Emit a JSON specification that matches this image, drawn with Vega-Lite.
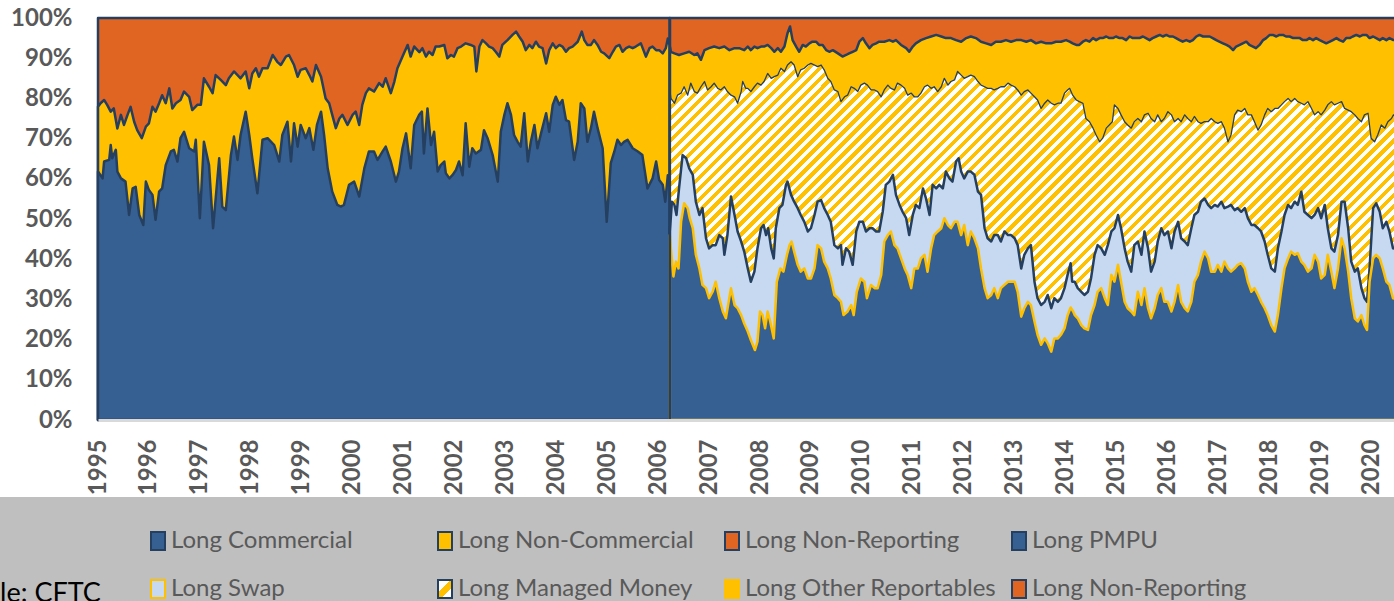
{
"$schema":"https://vega.github.io/schema/vega-lite/v6.json",
"width":1296,"height":402,
"autosize":{"type":"none"},
"padding":{"left":98,"top":18,"right":0,"bottom":181},
"background":"white",
"config":{"view":{"stroke":null},"font":"Lato"},
"datasets":{
"keys":[{"k":"a1"},{"k":"a2"},{"k":"a3"},{"k":"a4"},{"k":"a5"},{"k":"a6"},{"k":"a7"},{"k":"a8"}],
"brk":[{"t":2006.23}],
"nrl":[{"t":1995,"v":100},{"t":2006.23,"v":100}],
"nrd":[{"t":2006.23,"v":100},{"t":2020.5,"v":100}],
"comm":[{"t":1995.00,"v":61.8},{"t":1995.09,"v":60.1},{"t":1995.12,"v":64.3},{"t":1995.22,"v":64.7},{"t":1995.25,"v":68.4},{"t":1995.28,"v":65.1},{"t":1995.35,"v":67.2},{"t":1995.38,"v":61.8},{"t":1995.45,"v":60.1},{"t":1995.54,"v":59.3},{"t":1995.61,"v":51.0},{"t":1995.68,"v":57.6},{"t":1995.74,"v":58.0},{"t":1995.81,"v":51.0},{"t":1995.89,"v":48.5},{"t":1995.94,"v":59.3},{"t":1996.00,"v":57.2},{"t":1996.07,"v":56.0},{"t":1996.13,"v":49.8},{"t":1996.20,"v":56.8},{"t":1996.26,"v":57.6},{"t":1996.33,"v":63.4},{"t":1996.43,"v":66.8},{"t":1996.49,"v":67.2},{"t":1996.56,"v":64.3},{"t":1996.62,"v":70.1},{"t":1996.69,"v":71.7},{"t":1996.79,"v":67.6},{"t":1996.89,"v":66.8},{"t":1996.92,"v":69.7},{"t":1997.00,"v":50.2},{"t":1997.08,"v":69.2},{"t":1997.18,"v":63.4},{"t":1997.26,"v":47.7},{"t":1997.38,"v":65.1},{"t":1997.44,"v":53.1},{"t":1997.51,"v":52.2},{"t":1997.61,"v":65.9},{"t":1997.67,"v":70.5},{"t":1997.74,"v":64.7},{"t":1997.80,"v":70.9},{"t":1997.90,"v":76.7},{"t":1997.97,"v":70.9},{"t":1998.03,"v":65.1},{"t":1998.13,"v":56.4},{"t":1998.23,"v":69.7},{"t":1998.33,"v":70.1},{"t":1998.46,"v":68.4},{"t":1998.56,"v":64.3},{"t":1998.62,"v":70.9},{"t":1998.72,"v":74.2},{"t":1998.79,"v":64.3},{"t":1998.85,"v":73.8},{"t":1998.92,"v":68.0},{"t":1998.98,"v":73.4},{"t":1999.08,"v":70.1},{"t":1999.15,"v":72.6},{"t":1999.23,"v":67.2},{"t":1999.30,"v":73.4},{"t":1999.38,"v":76.7},{"t":1999.44,"v":70.9},{"t":1999.51,"v":62.6},{"t":1999.60,"v":56.8},{"t":1999.70,"v":53.5},{"t":1999.77,"v":53.1},{"t":1999.83,"v":53.5},{"t":1999.93,"v":58.5},{"t":2000.03,"v":59.3},{"t":2000.13,"v":55.6},{"t":2000.23,"v":62.6},{"t":2000.32,"v":66.8},{"t":2000.42,"v":66.8},{"t":2000.49,"v":64.7},{"t":2000.59,"v":66.8},{"t":2000.65,"v":68.0},{"t":2000.75,"v":64.3},{"t":2000.85,"v":59.3},{"t":2000.91,"v":61.8},{"t":2000.98,"v":67.6},{"t":2001.05,"v":71.3},{"t":2001.14,"v":62.6},{"t":2001.21,"v":73.4},{"t":2001.31,"v":76.0},{"t":2001.36,"v":76.7},{"t":2001.40,"v":66.3},{"t":2001.47,"v":77.5},{"t":2001.54,"v":68.4},{"t":2001.60,"v":71.7},{"t":2001.67,"v":61.8},{"t":2001.73,"v":63.4},{"t":2001.80,"v":64.3},{"t":2001.83,"v":61.4},{"t":2001.90,"v":60.1},{"t":2001.96,"v":60.9},{"t":2002.03,"v":62.2},{"t":2002.09,"v":64.3},{"t":2002.16,"v":60.9},{"t":2002.22,"v":73.8},{"t":2002.29,"v":63.0},{"t":2002.35,"v":67.6},{"t":2002.42,"v":66.3},{"t":2002.52,"v":67.2},{"t":2002.58,"v":72.1},{"t":2002.65,"v":70.1},{"t":2002.75,"v":65.9},{"t":2002.85,"v":59.3},{"t":2002.91,"v":71.7},{"t":2002.98,"v":75.9},{"t":2003.04,"v":78.8},{"t":2003.11,"v":75.9},{"t":2003.17,"v":70.9},{"t":2003.24,"v":69.2},{"t":2003.30,"v":68.0},{"t":2003.37,"v":76.3},{"t":2003.44,"v":64.3},{"t":2003.50,"v":69.2},{"t":2003.57,"v":73.4},{"t":2003.63,"v":67.6},{"t":2003.70,"v":71.3},{"t":2003.80,"v":76.3},{"t":2003.86,"v":71.7},{"t":2003.93,"v":78.4},{"t":2003.99,"v":80.4},{"t":2004.06,"v":78.4},{"t":2004.12,"v":79.6},{"t":2004.19,"v":74.6},{"t":2004.25,"v":74.2},{"t":2004.35,"v":64.7},{"t":2004.42,"v":69.2},{"t":2004.48,"v":78.8},{"t":2004.55,"v":77.5},{"t":2004.61,"v":69.2},{"t":2004.68,"v":72.6},{"t":2004.74,"v":76.7},{"t":2004.81,"v":72.6},{"t":2004.91,"v":67.6},{"t":2004.99,"v":49.3},{"t":2005.07,"v":63.9},{"t":2005.14,"v":66.8},{"t":2005.20,"v":69.7},{"t":2005.27,"v":68.4},{"t":2005.33,"v":69.2},{"t":2005.40,"v":69.7},{"t":2005.50,"v":67.6},{"t":2005.60,"v":66.8},{"t":2005.69,"v":65.9},{"t":2005.79,"v":57.6},{"t":2005.89,"v":60.1},{"t":2005.96,"v":64.3},{"t":2006.02,"v":59.7},{"t":2006.09,"v":58.5},{"t":2006.14,"v":54.3},{"t":2006.19,"v":60.9},{"t":2006.23,"v":58.0}],
"noncomm":[{"t":1995.00,"v":77.9},{"t":1995.05,"v":78.8},{"t":1995.12,"v":79.6},{"t":1995.18,"v":78.4},{"t":1995.25,"v":76.7},{"t":1995.31,"v":77.5},{"t":1995.38,"v":72.5},{"t":1995.45,"v":75.9},{"t":1995.51,"v":73.4},{"t":1995.58,"v":75.9},{"t":1995.64,"v":77.9},{"t":1995.71,"v":74.2},{"t":1995.77,"v":72.1},{"t":1995.86,"v":70.1},{"t":1995.94,"v":73.0},{"t":1996.00,"v":73.8},{"t":1996.07,"v":77.9},{"t":1996.13,"v":76.7},{"t":1996.20,"v":78.8},{"t":1996.26,"v":80.8},{"t":1996.33,"v":78.8},{"t":1996.40,"v":82.5},{"t":1996.46,"v":77.5},{"t":1996.53,"v":78.8},{"t":1996.62,"v":79.6},{"t":1996.69,"v":81.7},{"t":1996.79,"v":80.4},{"t":1996.85,"v":77.1},{"t":1996.95,"v":78.4},{"t":1997.02,"v":78.4},{"t":1997.08,"v":85.0},{"t":1997.18,"v":82.9},{"t":1997.25,"v":81.3},{"t":1997.31,"v":85.8},{"t":1997.41,"v":84.6},{"t":1997.51,"v":83.3},{"t":1997.57,"v":85.0},{"t":1997.67,"v":86.7},{"t":1997.74,"v":85.8},{"t":1997.80,"v":85.0},{"t":1997.90,"v":86.7},{"t":1997.97,"v":82.5},{"t":1998.03,"v":86.2},{"t":1998.10,"v":87.5},{"t":1998.16,"v":85.4},{"t":1998.23,"v":87.5},{"t":1998.33,"v":87.5},{"t":1998.43,"v":90.8},{"t":1998.52,"v":89.1},{"t":1998.59,"v":88.3},{"t":1998.69,"v":90.4},{"t":1998.75,"v":90.8},{"t":1998.85,"v":88.3},{"t":1998.92,"v":85.4},{"t":1998.98,"v":87.1},{"t":1999.08,"v":87.5},{"t":1999.15,"v":85.8},{"t":1999.21,"v":84.2},{"t":1999.28,"v":88.3},{"t":1999.38,"v":85.4},{"t":1999.47,"v":80.0},{"t":1999.54,"v":78.8},{"t":1999.60,"v":75.9},{"t":1999.67,"v":72.6},{"t":1999.74,"v":75.0},{"t":1999.80,"v":75.9},{"t":1999.90,"v":73.4},{"t":2000.00,"v":75.9},{"t":2000.06,"v":76.7},{"t":2000.13,"v":73.4},{"t":2000.19,"v":78.4},{"t":2000.26,"v":81.3},{"t":2000.32,"v":82.5},{"t":2000.42,"v":81.7},{"t":2000.52,"v":83.8},{"t":2000.59,"v":82.9},{"t":2000.65,"v":85.0},{"t":2000.75,"v":81.3},{"t":2000.82,"v":84.2},{"t":2000.88,"v":87.5},{"t":2000.98,"v":90.4},{"t":2001.08,"v":93.3},{"t":2001.14,"v":90.4},{"t":2001.21,"v":92.9},{"t":2001.31,"v":91.5},{"t":2001.37,"v":92.5},{"t":2001.44,"v":90.4},{"t":2001.50,"v":91.6},{"t":2001.57,"v":90.8},{"t":2001.63,"v":92.9},{"t":2001.70,"v":92.9},{"t":2001.80,"v":93.3},{"t":2001.86,"v":90.0},{"t":2001.93,"v":90.8},{"t":2001.99,"v":90.4},{"t":2002.06,"v":92.5},{"t":2002.13,"v":92.9},{"t":2002.22,"v":93.7},{"t":2002.32,"v":93.3},{"t":2002.39,"v":92.9},{"t":2002.43,"v":86.7},{"t":2002.49,"v":92.9},{"t":2002.55,"v":94.5},{"t":2002.62,"v":93.7},{"t":2002.68,"v":92.9},{"t":2002.75,"v":92.5},{"t":2002.81,"v":91.6},{"t":2002.88,"v":90.4},{"t":2002.94,"v":93.3},{"t":2003.04,"v":94.5},{"t":2003.14,"v":95.8},{"t":2003.21,"v":96.6},{"t":2003.27,"v":95.4},{"t":2003.34,"v":94.1},{"t":2003.40,"v":92.0},{"t":2003.47,"v":93.3},{"t":2003.53,"v":92.5},{"t":2003.60,"v":94.1},{"t":2003.66,"v":92.9},{"t":2003.73,"v":92.5},{"t":2003.80,"v":88.7},{"t":2003.86,"v":92.0},{"t":2003.93,"v":93.7},{"t":2003.99,"v":92.5},{"t":2004.06,"v":93.3},{"t":2004.12,"v":92.9},{"t":2004.19,"v":91.6},{"t":2004.25,"v":92.5},{"t":2004.32,"v":92.9},{"t":2004.42,"v":94.1},{"t":2004.50,"v":96.6},{"t":2004.55,"v":94.5},{"t":2004.61,"v":93.3},{"t":2004.68,"v":93.3},{"t":2004.74,"v":94.5},{"t":2004.81,"v":93.3},{"t":2004.88,"v":91.6},{"t":2004.94,"v":91.2},{"t":2005.04,"v":90.0},{"t":2005.11,"v":91.6},{"t":2005.17,"v":92.9},{"t":2005.24,"v":93.3},{"t":2005.30,"v":91.6},{"t":2005.37,"v":92.5},{"t":2005.43,"v":92.9},{"t":2005.50,"v":92.5},{"t":2005.56,"v":92.9},{"t":2005.66,"v":93.7},{"t":2005.76,"v":90.4},{"t":2005.83,"v":92.5},{"t":2005.89,"v":92.9},{"t":2005.96,"v":92.0},{"t":2006.02,"v":92.0},{"t":2006.09,"v":91.2},{"t":2006.15,"v":92.5},{"t":2006.19,"v":94.9},{"t":2006.23,"v":93.0}],
"pmpu":[{"t":2006.23,"v":46.0},{"t":2006.25,"v":42.7},{"t":2006.30,"v":35.7},{"t":2006.35,"v":39.4},{"t":2006.40,"v":37.7},{"t":2006.45,"v":49.3},{"t":2006.51,"v":53.9},{"t":2006.58,"v":52.7},{"t":2006.62,"v":50.2},{"t":2006.68,"v":47.7},{"t":2006.74,"v":41.1},{"t":2006.81,"v":37.7},{"t":2006.87,"v":33.6},{"t":2006.94,"v":32.8},{"t":2007.00,"v":30.3},{"t":2007.07,"v":31.9},{"t":2007.13,"v":34.4},{"t":2007.20,"v":30.3},{"t":2007.27,"v":27.0},{"t":2007.33,"v":25.3},{"t":2007.43,"v":32.8},{"t":2007.50,"v":28.6},{"t":2007.56,"v":27.8},{"t":2007.63,"v":26.1},{"t":2007.69,"v":24.0},{"t":2007.76,"v":22.0},{"t":2007.82,"v":19.9},{"t":2007.90,"v":17.4},{"t":2007.95,"v":19.5},{"t":2008.00,"v":27.0},{"t":2008.05,"v":26.1},{"t":2008.10,"v":22.8},{"t":2008.15,"v":27.0},{"t":2008.20,"v":24.5},{"t":2008.27,"v":20.3},{"t":2008.33,"v":34.4},{"t":2008.40,"v":37.7},{"t":2008.46,"v":36.9},{"t":2008.53,"v":41.1},{"t":2008.58,"v":43.5},{"t":2008.62,"v":44.4},{"t":2008.67,"v":41.9},{"t":2008.74,"v":38.6},{"t":2008.80,"v":36.9},{"t":2008.87,"v":37.7},{"t":2008.94,"v":35.2},{"t":2009.00,"v":35.2},{"t":2009.07,"v":37.7},{"t":2009.13,"v":43.5},{"t":2009.20,"v":42.7},{"t":2009.26,"v":39.4},{"t":2009.33,"v":37.7},{"t":2009.39,"v":35.2},{"t":2009.46,"v":31.1},{"t":2009.53,"v":30.3},{"t":2009.59,"v":29.4},{"t":2009.64,"v":26.1},{"t":2009.72,"v":27.0},{"t":2009.79,"v":28.6},{"t":2009.84,"v":26.1},{"t":2009.90,"v":31.9},{"t":2009.98,"v":35.2},{"t":2010.05,"v":34.4},{"t":2010.10,"v":30.3},{"t":2010.18,"v":33.6},{"t":2010.25,"v":32.8},{"t":2010.31,"v":32.8},{"t":2010.38,"v":36.1},{"t":2010.44,"v":44.4},{"t":2010.51,"v":46.0},{"t":2010.57,"v":46.9},{"t":2010.64,"v":43.5},{"t":2010.70,"v":42.7},{"t":2010.77,"v":40.2},{"t":2010.84,"v":37.7},{"t":2010.90,"v":36.1},{"t":2010.97,"v":32.8},{"t":2011.03,"v":37.7},{"t":2011.10,"v":37.7},{"t":2011.16,"v":40.2},{"t":2011.23,"v":41.1},{"t":2011.29,"v":36.9},{"t":2011.36,"v":42.7},{"t":2011.42,"v":46.0},{"t":2011.49,"v":46.9},{"t":2011.56,"v":47.7},{"t":2011.62,"v":50.2},{"t":2011.69,"v":48.5},{"t":2011.75,"v":47.7},{"t":2011.82,"v":49.3},{"t":2011.88,"v":49.3},{"t":2011.95,"v":46.0},{"t":2012.01,"v":48.5},{"t":2012.08,"v":43.5},{"t":2012.14,"v":46.9},{"t":2012.21,"v":45.2},{"t":2012.28,"v":42.7},{"t":2012.34,"v":37.7},{"t":2012.41,"v":32.8},{"t":2012.47,"v":30.3},{"t":2012.54,"v":31.1},{"t":2012.60,"v":32.8},{"t":2012.67,"v":30.3},{"t":2012.73,"v":32.8},{"t":2012.80,"v":33.6},{"t":2012.87,"v":34.4},{"t":2012.93,"v":34.4},{"t":2013.00,"v":34.4},{"t":2013.06,"v":31.9},{"t":2013.13,"v":25.7},{"t":2013.19,"v":27.8},{"t":2013.26,"v":29.4},{"t":2013.32,"v":28.6},{"t":2013.39,"v":24.5},{"t":2013.45,"v":21.2},{"t":2013.52,"v":18.7},{"t":2013.59,"v":20.3},{"t":2013.65,"v":19.1},{"t":2013.72,"v":17.0},{"t":2013.78,"v":20.3},{"t":2013.85,"v":20.3},{"t":2013.91,"v":21.2},{"t":2013.98,"v":22.8},{"t":2014.04,"v":26.0},{"t":2014.10,"v":28.0},{"t":2014.15,"v":27.0},{"t":2014.18,"v":26.1},{"t":2014.24,"v":25.3},{"t":2014.31,"v":23.6},{"t":2014.37,"v":22.8},{"t":2014.44,"v":22.4},{"t":2014.50,"v":26.1},{"t":2014.57,"v":28.6},{"t":2014.63,"v":31.9},{"t":2014.70,"v":32.8},{"t":2014.77,"v":30.3},{"t":2014.83,"v":28.6},{"t":2014.90,"v":36.1},{"t":2014.96,"v":34.4},{"t":2015.03,"v":38.6},{"t":2015.09,"v":34.4},{"t":2015.16,"v":29.4},{"t":2015.22,"v":27.8},{"t":2015.29,"v":27.0},{"t":2015.35,"v":26.1},{"t":2015.42,"v":31.9},{"t":2015.49,"v":28.6},{"t":2015.55,"v":32.8},{"t":2015.62,"v":27.8},{"t":2015.68,"v":25.3},{"t":2015.75,"v":27.8},{"t":2015.81,"v":31.1},{"t":2015.88,"v":32.8},{"t":2015.94,"v":29.4},{"t":2016.01,"v":29.4},{"t":2016.08,"v":27.0},{"t":2016.14,"v":29.4},{"t":2016.21,"v":33.6},{"t":2016.27,"v":29.4},{"t":2016.34,"v":27.8},{"t":2016.40,"v":27.0},{"t":2016.47,"v":29.4},{"t":2016.53,"v":34.4},{"t":2016.60,"v":36.1},{"t":2016.66,"v":39.4},{"t":2016.73,"v":41.9},{"t":2016.80,"v":40.2},{"t":2016.86,"v":36.9},{"t":2016.93,"v":36.9},{"t":2016.99,"v":38.6},{"t":2017.06,"v":36.9},{"t":2017.12,"v":39.4},{"t":2017.19,"v":37.7},{"t":2017.25,"v":36.9},{"t":2017.32,"v":37.7},{"t":2017.38,"v":38.6},{"t":2017.45,"v":39.0},{"t":2017.52,"v":37.7},{"t":2017.58,"v":34.4},{"t":2017.65,"v":31.9},{"t":2017.71,"v":32.8},{"t":2017.78,"v":31.1},{"t":2017.84,"v":29.4},{"t":2017.91,"v":27.8},{"t":2017.97,"v":26.1},{"t":2018.04,"v":23.6},{"t":2018.11,"v":22.0},{"t":2018.17,"v":26.1},{"t":2018.24,"v":32.8},{"t":2018.30,"v":37.7},{"t":2018.37,"v":40.2},{"t":2018.43,"v":41.9},{"t":2018.50,"v":41.1},{"t":2018.56,"v":41.5},{"t":2018.63,"v":39.4},{"t":2018.69,"v":38.6},{"t":2018.76,"v":36.9},{"t":2018.83,"v":37.7},{"t":2018.89,"v":41.1},{"t":2018.96,"v":39.4},{"t":2019.02,"v":35.2},{"t":2019.09,"v":36.1},{"t":2019.15,"v":41.1},{"t":2019.22,"v":36.9},{"t":2019.28,"v":32.8},{"t":2019.35,"v":37.7},{"t":2019.42,"v":45.2},{"t":2019.48,"v":42.7},{"t":2019.55,"v":36.9},{"t":2019.61,"v":30.3},{"t":2019.68,"v":25.3},{"t":2019.74,"v":24.5},{"t":2019.81,"v":26.1},{"t":2019.87,"v":23.6},{"t":2019.92,"v":22.4},{"t":2019.97,"v":34.4},{"t":2020.04,"v":40.2},{"t":2020.10,"v":41.1},{"t":2020.17,"v":40.2},{"t":2020.23,"v":37.7},{"t":2020.30,"v":34.4},{"t":2020.36,"v":33.6},{"t":2020.43,"v":30.3},{"t":2020.50,"v":30.0}],
"swap":[{"t":2006.23,"v":46.9},{"t":2006.27,"v":54.3},{"t":2006.32,"v":53.5},{"t":2006.36,"v":51.0},{"t":2006.41,"v":57.6},{"t":2006.48,"v":65.9},{"t":2006.55,"v":65.1},{"t":2006.61,"v":62.6},{"t":2006.68,"v":61.0},{"t":2006.74,"v":54.3},{"t":2006.81,"v":51.0},{"t":2006.87,"v":52.7},{"t":2006.94,"v":45.2},{"t":2007.00,"v":42.7},{"t":2007.07,"v":43.5},{"t":2007.13,"v":43.5},{"t":2007.20,"v":46.0},{"t":2007.27,"v":45.2},{"t":2007.30,"v":41.1},{"t":2007.36,"v":46.0},{"t":2007.43,"v":55.6},{"t":2007.50,"v":51.0},{"t":2007.56,"v":46.9},{"t":2007.63,"v":44.4},{"t":2007.69,"v":41.9},{"t":2007.76,"v":37.7},{"t":2007.82,"v":34.4},{"t":2007.89,"v":36.9},{"t":2007.95,"v":42.7},{"t":2008.02,"v":47.7},{"t":2008.07,"v":48.5},{"t":2008.12,"v":46.0},{"t":2008.16,"v":47.7},{"t":2008.22,"v":42.7},{"t":2008.27,"v":40.2},{"t":2008.31,"v":47.7},{"t":2008.38,"v":52.7},{"t":2008.44,"v":53.5},{"t":2008.51,"v":58.5},{"t":2008.54,"v":59.3},{"t":2008.61,"v":56.0},{"t":2008.67,"v":54.3},{"t":2008.74,"v":52.7},{"t":2008.80,"v":51.0},{"t":2008.87,"v":49.3},{"t":2008.94,"v":46.9},{"t":2009.00,"v":47.7},{"t":2009.07,"v":51.0},{"t":2009.13,"v":54.3},{"t":2009.20,"v":54.7},{"t":2009.26,"v":52.7},{"t":2009.33,"v":51.0},{"t":2009.39,"v":49.3},{"t":2009.46,"v":43.5},{"t":2009.53,"v":42.7},{"t":2009.59,"v":43.5},{"t":2009.62,"v":38.6},{"t":2009.69,"v":42.7},{"t":2009.75,"v":41.9},{"t":2009.82,"v":38.6},{"t":2009.89,"v":46.9},{"t":2009.95,"v":49.3},{"t":2010.02,"v":49.3},{"t":2010.08,"v":46.9},{"t":2010.15,"v":47.7},{"t":2010.21,"v":47.7},{"t":2010.28,"v":46.9},{"t":2010.34,"v":46.9},{"t":2010.41,"v":51.8},{"t":2010.47,"v":58.5},{"t":2010.54,"v":59.3},{"t":2010.61,"v":61.0},{"t":2010.67,"v":56.0},{"t":2010.74,"v":53.5},{"t":2010.80,"v":51.8},{"t":2010.87,"v":50.2},{"t":2010.93,"v":46.0},{"t":2011.00,"v":51.0},{"t":2011.06,"v":53.5},{"t":2011.13,"v":52.7},{"t":2011.20,"v":57.6},{"t":2011.26,"v":55.1},{"t":2011.33,"v":51.0},{"t":2011.39,"v":58.5},{"t":2011.46,"v":57.6},{"t":2011.52,"v":58.5},{"t":2011.59,"v":57.6},{"t":2011.65,"v":61.8},{"t":2011.72,"v":60.1},{"t":2011.78,"v":59.3},{"t":2011.85,"v":64.3},{"t":2011.90,"v":65.1},{"t":2011.95,"v":61.8},{"t":2012.01,"v":60.1},{"t":2012.08,"v":61.8},{"t":2012.14,"v":61.8},{"t":2012.21,"v":61.0},{"t":2012.28,"v":56.8},{"t":2012.34,"v":56.0},{"t":2012.41,"v":47.7},{"t":2012.47,"v":45.2},{"t":2012.54,"v":44.4},{"t":2012.60,"v":46.0},{"t":2012.67,"v":46.0},{"t":2012.73,"v":44.4},{"t":2012.80,"v":46.9},{"t":2012.87,"v":46.0},{"t":2012.93,"v":46.0},{"t":2013.00,"v":45.2},{"t":2013.06,"v":43.5},{"t":2013.13,"v":37.7},{"t":2013.19,"v":41.1},{"t":2013.26,"v":42.7},{"t":2013.32,"v":43.5},{"t":2013.39,"v":34.4},{"t":2013.45,"v":30.3},{"t":2013.52,"v":28.6},{"t":2013.59,"v":29.4},{"t":2013.65,"v":31.1},{"t":2013.72,"v":27.8},{"t":2013.78,"v":30.3},{"t":2013.85,"v":29.4},{"t":2013.91,"v":30.3},{"t":2013.98,"v":32.8},{"t":2014.04,"v":36.1},{"t":2014.10,"v":39.0},{"t":2014.13,"v":34.4},{"t":2014.18,"v":34.4},{"t":2014.24,"v":32.8},{"t":2014.31,"v":31.9},{"t":2014.37,"v":31.1},{"t":2014.44,"v":31.9},{"t":2014.50,"v":35.2},{"t":2014.57,"v":41.1},{"t":2014.63,"v":43.5},{"t":2014.70,"v":42.7},{"t":2014.77,"v":41.1},{"t":2014.83,"v":43.5},{"t":2014.90,"v":46.9},{"t":2014.96,"v":47.7},{"t":2015.03,"v":51.0},{"t":2015.09,"v":47.7},{"t":2015.16,"v":42.7},{"t":2015.22,"v":39.4},{"t":2015.29,"v":36.9},{"t":2015.35,"v":43.5},{"t":2015.42,"v":44.4},{"t":2015.49,"v":41.1},{"t":2015.55,"v":46.9},{"t":2015.62,"v":42.7},{"t":2015.68,"v":36.9},{"t":2015.75,"v":39.4},{"t":2015.81,"v":44.4},{"t":2015.88,"v":47.7},{"t":2015.94,"v":46.0},{"t":2016.01,"v":46.9},{"t":2016.08,"v":42.7},{"t":2016.14,"v":46.9},{"t":2016.21,"v":49.3},{"t":2016.27,"v":45.2},{"t":2016.34,"v":44.4},{"t":2016.40,"v":43.5},{"t":2016.47,"v":47.7},{"t":2016.53,"v":51.0},{"t":2016.60,"v":51.8},{"t":2016.66,"v":54.3},{"t":2016.73,"v":55.1},{"t":2016.80,"v":53.5},{"t":2016.86,"v":52.7},{"t":2016.93,"v":53.5},{"t":2016.99,"v":53.1},{"t":2017.06,"v":54.3},{"t":2017.12,"v":52.7},{"t":2017.19,"v":53.1},{"t":2017.25,"v":53.5},{"t":2017.32,"v":52.2},{"t":2017.38,"v":52.7},{"t":2017.45,"v":51.8},{"t":2017.52,"v":52.7},{"t":2017.58,"v":50.2},{"t":2017.65,"v":48.5},{"t":2017.71,"v":48.5},{"t":2017.78,"v":47.7},{"t":2017.84,"v":46.9},{"t":2017.91,"v":44.4},{"t":2017.97,"v":41.1},{"t":2018.04,"v":37.7},{"t":2018.11,"v":36.9},{"t":2018.17,"v":42.7},{"t":2018.24,"v":46.9},{"t":2018.30,"v":51.0},{"t":2018.37,"v":53.5},{"t":2018.43,"v":52.7},{"t":2018.50,"v":54.3},{"t":2018.56,"v":53.5},{"t":2018.63,"v":56.8},{"t":2018.69,"v":51.8},{"t":2018.76,"v":51.0},{"t":2018.83,"v":50.2},{"t":2018.89,"v":51.0},{"t":2018.96,"v":52.7},{"t":2019.02,"v":50.2},{"t":2019.09,"v":53.5},{"t":2019.15,"v":47.7},{"t":2019.22,"v":42.7},{"t":2019.28,"v":41.9},{"t":2019.35,"v":46.0},{"t":2019.42,"v":54.3},{"t":2019.48,"v":54.3},{"t":2019.55,"v":47.7},{"t":2019.61,"v":39.4},{"t":2019.68,"v":36.9},{"t":2019.74,"v":37.7},{"t":2019.81,"v":32.8},{"t":2019.87,"v":30.3},{"t":2019.92,"v":29.4},{"t":2019.97,"v":37.7},{"t":2020.04,"v":52.7},{"t":2020.10,"v":53.9},{"t":2020.17,"v":51.8},{"t":2020.23,"v":47.7},{"t":2020.30,"v":49.3},{"t":2020.36,"v":46.9},{"t":2020.43,"v":42.7},{"t":2020.50,"v":42.5}],
"mm":[{"t":2006.23,"v":82.0},{"t":2006.25,"v":80.0},{"t":2006.32,"v":78.8},{"t":2006.38,"v":80.8},{"t":2006.45,"v":81.3},{"t":2006.51,"v":82.9},{"t":2006.58,"v":80.8},{"t":2006.64,"v":83.8},{"t":2006.71,"v":81.7},{"t":2006.77,"v":81.3},{"t":2006.84,"v":82.9},{"t":2006.91,"v":84.2},{"t":2006.97,"v":82.1},{"t":2007.04,"v":82.9},{"t":2007.10,"v":83.8},{"t":2007.17,"v":82.5},{"t":2007.23,"v":82.1},{"t":2007.30,"v":82.9},{"t":2007.36,"v":81.7},{"t":2007.43,"v":80.8},{"t":2007.50,"v":80.4},{"t":2007.56,"v":78.8},{"t":2007.63,"v":81.7},{"t":2007.66,"v":84.2},{"t":2007.72,"v":82.5},{"t":2007.76,"v":82.5},{"t":2007.82,"v":81.7},{"t":2007.89,"v":82.9},{"t":2007.95,"v":83.8},{"t":2008.02,"v":83.3},{"t":2008.08,"v":84.2},{"t":2008.15,"v":86.2},{"t":2008.22,"v":85.0},{"t":2008.28,"v":85.4},{"t":2008.35,"v":85.8},{"t":2008.41,"v":87.5},{"t":2008.48,"v":86.7},{"t":2008.54,"v":88.3},{"t":2008.61,"v":89.1},{"t":2008.67,"v":88.3},{"t":2008.74,"v":85.4},{"t":2008.80,"v":87.1},{"t":2008.87,"v":87.5},{"t":2008.94,"v":88.3},{"t":2009.00,"v":88.7},{"t":2009.07,"v":88.3},{"t":2009.13,"v":87.9},{"t":2009.20,"v":88.3},{"t":2009.26,"v":87.1},{"t":2009.33,"v":85.0},{"t":2009.39,"v":84.2},{"t":2009.46,"v":82.1},{"t":2009.53,"v":81.7},{"t":2009.59,"v":79.2},{"t":2009.66,"v":80.4},{"t":2009.72,"v":80.8},{"t":2009.79,"v":82.9},{"t":2009.85,"v":82.5},{"t":2009.92,"v":81.7},{"t":2009.98,"v":83.3},{"t":2010.05,"v":83.8},{"t":2010.11,"v":83.3},{"t":2010.18,"v":82.1},{"t":2010.25,"v":82.1},{"t":2010.31,"v":81.7},{"t":2010.38,"v":80.4},{"t":2010.44,"v":82.1},{"t":2010.51,"v":83.3},{"t":2010.57,"v":82.5},{"t":2010.64,"v":82.1},{"t":2010.70,"v":83.8},{"t":2010.77,"v":83.3},{"t":2010.84,"v":82.5},{"t":2010.90,"v":80.8},{"t":2010.97,"v":81.3},{"t":2011.03,"v":80.4},{"t":2011.10,"v":80.4},{"t":2011.16,"v":81.3},{"t":2011.23,"v":82.9},{"t":2011.29,"v":83.3},{"t":2011.36,"v":82.5},{"t":2011.42,"v":82.9},{"t":2011.49,"v":81.7},{"t":2011.56,"v":82.9},{"t":2011.62,"v":85.0},{"t":2011.69,"v":83.3},{"t":2011.75,"v":84.2},{"t":2011.82,"v":84.6},{"t":2011.88,"v":86.7},{"t":2011.95,"v":85.8},{"t":2012.01,"v":85.0},{"t":2012.08,"v":85.4},{"t":2012.14,"v":85.8},{"t":2012.21,"v":85.4},{"t":2012.28,"v":84.2},{"t":2012.34,"v":83.3},{"t":2012.41,"v":82.9},{"t":2012.47,"v":82.5},{"t":2012.54,"v":82.5},{"t":2012.60,"v":82.1},{"t":2012.67,"v":82.5},{"t":2012.73,"v":82.9},{"t":2012.80,"v":82.9},{"t":2012.87,"v":83.8},{"t":2012.93,"v":83.3},{"t":2013.00,"v":82.9},{"t":2013.06,"v":82.1},{"t":2013.13,"v":80.8},{"t":2013.19,"v":81.7},{"t":2013.26,"v":82.1},{"t":2013.32,"v":81.3},{"t":2013.39,"v":80.4},{"t":2013.45,"v":79.6},{"t":2013.52,"v":77.5},{"t":2013.59,"v":78.8},{"t":2013.65,"v":79.6},{"t":2013.72,"v":78.8},{"t":2013.78,"v":78.4},{"t":2013.85,"v":78.8},{"t":2013.91,"v":78.8},{"t":2013.98,"v":81.3},{"t":2014.04,"v":82.1},{"t":2014.08,"v":82.5},{"t":2014.14,"v":80.8},{"t":2014.21,"v":79.6},{"t":2014.27,"v":79.2},{"t":2014.34,"v":78.8},{"t":2014.40,"v":75.0},{"t":2014.47,"v":74.2},{"t":2014.54,"v":72.6},{"t":2014.60,"v":70.9},{"t":2014.67,"v":69.2},{"t":2014.73,"v":70.1},{"t":2014.80,"v":72.6},{"t":2014.86,"v":73.4},{"t":2014.92,"v":74.2},{"t":2014.96,"v":78.4},{"t":2015.03,"v":77.5},{"t":2015.09,"v":75.9},{"t":2015.16,"v":74.2},{"t":2015.22,"v":73.4},{"t":2015.29,"v":72.6},{"t":2015.35,"v":74.2},{"t":2015.42,"v":75.0},{"t":2015.49,"v":74.2},{"t":2015.55,"v":75.9},{"t":2015.62,"v":76.3},{"t":2015.68,"v":75.0},{"t":2015.75,"v":74.2},{"t":2015.81,"v":75.9},{"t":2015.88,"v":74.2},{"t":2015.94,"v":75.0},{"t":2016.01,"v":76.7},{"t":2016.08,"v":75.9},{"t":2016.14,"v":74.2},{"t":2016.21,"v":75.0},{"t":2016.27,"v":74.2},{"t":2016.34,"v":75.9},{"t":2016.40,"v":75.0},{"t":2016.47,"v":74.2},{"t":2016.53,"v":75.5},{"t":2016.60,"v":74.2},{"t":2016.66,"v":73.8},{"t":2016.73,"v":74.2},{"t":2016.80,"v":74.2},{"t":2016.86,"v":75.0},{"t":2016.93,"v":74.2},{"t":2016.99,"v":73.8},{"t":2017.06,"v":74.2},{"t":2017.12,"v":72.6},{"t":2017.19,"v":69.2},{"t":2017.25,"v":70.9},{"t":2017.32,"v":75.9},{"t":2017.38,"v":77.1},{"t":2017.45,"v":76.7},{"t":2017.52,"v":77.5},{"t":2017.58,"v":75.9},{"t":2017.65,"v":75.9},{"t":2017.71,"v":74.2},{"t":2017.78,"v":72.1},{"t":2017.84,"v":73.4},{"t":2017.91,"v":75.9},{"t":2017.97,"v":77.5},{"t":2018.04,"v":76.7},{"t":2018.11,"v":77.5},{"t":2018.17,"v":77.5},{"t":2018.24,"v":78.4},{"t":2018.30,"v":79.2},{"t":2018.37,"v":80.0},{"t":2018.43,"v":79.2},{"t":2018.50,"v":80.0},{"t":2018.56,"v":79.2},{"t":2018.63,"v":78.8},{"t":2018.69,"v":78.4},{"t":2018.76,"v":79.2},{"t":2018.83,"v":77.5},{"t":2018.89,"v":75.9},{"t":2018.96,"v":76.7},{"t":2019.02,"v":75.9},{"t":2019.09,"v":77.1},{"t":2019.15,"v":78.4},{"t":2019.22,"v":79.2},{"t":2019.28,"v":78.4},{"t":2019.35,"v":78.8},{"t":2019.42,"v":79.2},{"t":2019.48,"v":77.5},{"t":2019.55,"v":77.1},{"t":2019.61,"v":76.7},{"t":2019.68,"v":75.9},{"t":2019.74,"v":75.0},{"t":2019.81,"v":74.2},{"t":2019.87,"v":75.9},{"t":2019.94,"v":76.3},{"t":2020.00,"v":70.1},{"t":2020.07,"v":69.2},{"t":2020.13,"v":70.9},{"t":2020.20,"v":73.4},{"t":2020.27,"v":72.6},{"t":2020.33,"v":74.2},{"t":2020.40,"v":75.0},{"t":2020.44,"v":75.9},{"t":2020.50,"v":75.5}],
"other":[{"t":2006.23,"v":92.9},{"t":2006.25,"v":91.6},{"t":2006.32,"v":91.2},{"t":2006.41,"v":90.8},{"t":2006.51,"v":91.2},{"t":2006.61,"v":91.6},{"t":2006.71,"v":90.8},{"t":2006.77,"v":91.2},{"t":2006.84,"v":89.6},{"t":2006.91,"v":92.0},{"t":2007.00,"v":92.5},{"t":2007.10,"v":92.9},{"t":2007.20,"v":92.5},{"t":2007.30,"v":92.9},{"t":2007.40,"v":92.0},{"t":2007.50,"v":92.5},{"t":2007.59,"v":92.5},{"t":2007.69,"v":92.0},{"t":2007.76,"v":92.9},{"t":2007.82,"v":92.0},{"t":2007.89,"v":92.9},{"t":2007.95,"v":92.5},{"t":2008.02,"v":92.9},{"t":2008.08,"v":92.9},{"t":2008.15,"v":93.3},{"t":2008.22,"v":92.5},{"t":2008.28,"v":91.6},{"t":2008.35,"v":92.5},{"t":2008.41,"v":91.6},{"t":2008.48,"v":92.9},{"t":2008.54,"v":96.2},{"t":2008.59,"v":97.9},{"t":2008.64,"v":94.5},{"t":2008.71,"v":92.9},{"t":2008.77,"v":91.6},{"t":2008.84,"v":93.3},{"t":2008.90,"v":92.9},{"t":2008.97,"v":93.7},{"t":2009.03,"v":94.1},{"t":2009.10,"v":94.1},{"t":2009.16,"v":93.3},{"t":2009.23,"v":93.3},{"t":2009.30,"v":92.0},{"t":2009.36,"v":91.6},{"t":2009.43,"v":92.0},{"t":2009.53,"v":91.2},{"t":2009.62,"v":90.4},{"t":2009.69,"v":90.8},{"t":2009.75,"v":91.2},{"t":2009.82,"v":91.6},{"t":2009.89,"v":92.0},{"t":2009.95,"v":94.1},{"t":2010.02,"v":95.0},{"t":2010.08,"v":93.7},{"t":2010.15,"v":92.5},{"t":2010.21,"v":93.3},{"t":2010.28,"v":93.7},{"t":2010.34,"v":94.1},{"t":2010.44,"v":94.1},{"t":2010.54,"v":94.5},{"t":2010.61,"v":94.1},{"t":2010.67,"v":94.5},{"t":2010.77,"v":93.3},{"t":2010.87,"v":92.5},{"t":2010.93,"v":91.6},{"t":2011.00,"v":92.9},{"t":2011.06,"v":93.7},{"t":2011.16,"v":94.5},{"t":2011.26,"v":95.0},{"t":2011.36,"v":95.4},{"t":2011.46,"v":95.8},{"t":2011.56,"v":95.4},{"t":2011.65,"v":95.0},{"t":2011.75,"v":95.0},{"t":2011.85,"v":94.5},{"t":2011.95,"v":94.1},{"t":2012.05,"v":95.0},{"t":2012.14,"v":95.4},{"t":2012.24,"v":95.0},{"t":2012.34,"v":94.1},{"t":2012.44,"v":93.7},{"t":2012.54,"v":93.3},{"t":2012.63,"v":94.1},{"t":2012.73,"v":94.1},{"t":2012.83,"v":94.5},{"t":2012.93,"v":94.1},{"t":2013.03,"v":94.5},{"t":2013.13,"v":94.5},{"t":2013.23,"v":94.1},{"t":2013.32,"v":94.5},{"t":2013.42,"v":93.7},{"t":2013.52,"v":94.1},{"t":2013.62,"v":93.7},{"t":2013.72,"v":93.7},{"t":2013.81,"v":94.1},{"t":2013.91,"v":94.1},{"t":2014.01,"v":94.5},{"t":2014.08,"v":94.1},{"t":2014.14,"v":93.7},{"t":2014.21,"v":93.3},{"t":2014.27,"v":93.3},{"t":2014.34,"v":94.1},{"t":2014.40,"v":94.5},{"t":2014.47,"v":94.1},{"t":2014.54,"v":95.0},{"t":2014.60,"v":94.5},{"t":2014.67,"v":95.0},{"t":2014.73,"v":95.0},{"t":2014.80,"v":95.4},{"t":2014.86,"v":95.0},{"t":2014.93,"v":95.0},{"t":2014.99,"v":95.4},{"t":2015.06,"v":95.0},{"t":2015.12,"v":95.0},{"t":2015.19,"v":94.5},{"t":2015.26,"v":95.4},{"t":2015.32,"v":95.0},{"t":2015.39,"v":95.0},{"t":2015.45,"v":95.0},{"t":2015.52,"v":95.4},{"t":2015.58,"v":95.0},{"t":2015.65,"v":94.5},{"t":2015.71,"v":95.0},{"t":2015.78,"v":95.4},{"t":2015.85,"v":95.8},{"t":2015.91,"v":95.4},{"t":2015.98,"v":95.8},{"t":2016.04,"v":95.4},{"t":2016.11,"v":95.4},{"t":2016.17,"v":95.0},{"t":2016.24,"v":94.5},{"t":2016.30,"v":94.1},{"t":2016.37,"v":94.5},{"t":2016.44,"v":94.1},{"t":2016.50,"v":94.5},{"t":2016.57,"v":95.4},{"t":2016.63,"v":95.8},{"t":2016.70,"v":95.4},{"t":2016.76,"v":95.4},{"t":2016.83,"v":95.4},{"t":2016.89,"v":95.0},{"t":2016.96,"v":94.5},{"t":2017.02,"v":94.1},{"t":2017.09,"v":93.7},{"t":2017.16,"v":93.3},{"t":2017.22,"v":92.9},{"t":2017.29,"v":92.0},{"t":2017.35,"v":92.9},{"t":2017.42,"v":93.3},{"t":2017.48,"v":93.7},{"t":2017.55,"v":94.1},{"t":2017.61,"v":93.3},{"t":2017.68,"v":92.9},{"t":2017.74,"v":92.5},{"t":2017.81,"v":93.3},{"t":2017.88,"v":94.5},{"t":2017.94,"v":95.0},{"t":2018.01,"v":95.8},{"t":2018.07,"v":95.8},{"t":2018.14,"v":95.4},{"t":2018.20,"v":95.8},{"t":2018.27,"v":95.8},{"t":2018.33,"v":95.4},{"t":2018.40,"v":95.4},{"t":2018.47,"v":95.0},{"t":2018.53,"v":95.0},{"t":2018.60,"v":95.0},{"t":2018.66,"v":94.5},{"t":2018.73,"v":94.5},{"t":2018.79,"v":95.0},{"t":2018.86,"v":94.5},{"t":2018.92,"v":95.0},{"t":2018.99,"v":94.5},{"t":2019.05,"v":94.1},{"t":2019.12,"v":93.7},{"t":2019.19,"v":94.1},{"t":2019.25,"v":94.5},{"t":2019.32,"v":95.0},{"t":2019.38,"v":94.5},{"t":2019.45,"v":94.1},{"t":2019.51,"v":95.0},{"t":2019.58,"v":95.0},{"t":2019.64,"v":95.4},{"t":2019.71,"v":95.8},{"t":2019.78,"v":95.4},{"t":2019.84,"v":95.8},{"t":2019.91,"v":95.8},{"t":2019.97,"v":95.0},{"t":2020.04,"v":95.4},{"t":2020.10,"v":95.0},{"t":2020.17,"v":94.5},{"t":2020.23,"v":95.0},{"t":2020.30,"v":94.5},{"t":2020.36,"v":95.0},{"t":2020.44,"v":94.5},{"t":2020.50,"v":94.5}]
},
"layer":[
{"data":{"name":"keys"},
 "mark":{"type":"point","filled":true,"opacity":1,"size":1},
 "encoding":{
  "fill":{"field":"k","type":"nominal",
   "scale":{"domain":["a1","a2","a3","a4","a5","a6","a7","a8"],
    "range":["#376092","#FFC000","#E06422","#376092","#C6D9F1",{"expr":"{gradient:'linear',x1:0,y1:0,x2:0.11887,y2:0.007984,stops:[{offset:0,color:'#FFFFFF'},{offset:0.38,color:'#FFFFFF'},{offset:0.38,color:'#FFC000'},{offset:0.66,color:'#FFC000'},{offset:0.66,color:'#FFFFFF'},{offset:1,color:'#FFFFFF'}]}"},"#FFC000","#E06422"]},
   "legend":{"orient":"none","legendX":-187,"legendY":479,"direction":"horizontal","columns":4,"columnPadding":10,"rowPadding":22,"gridAlign":"each",
    "fillColor":"#BFBFBF","padding":32,"strokeColor":null,
    "title":"Quelle: CFTC","titleOrient":"left","titleAnchor":"end","titleBaseline":"alphabetic","titleFont":"Lato","titleFontSize":27,"titleFontWeight":"normal","titleColor":"#000000","titlePadding":45,"titleLimit":400,
    "labelFont":"Lato","labelFontSize":24,"labelColor":"#595959","labelOffset":1,"labelLimit":2000,
    "labelExpr":"datum.value === 'a1' ? 'Long Commercial' : datum.value === 'a2' ? 'Long Non-Commercial' : datum.value === 'a3' ? 'Long Non-Reporting' : datum.value === 'a4' ? 'Long PMPU' : datum.value === 'a5' ? 'Long Swap' : datum.value === 'a6' ? 'Long Managed Money' : datum.value === 'a7' ? 'Long Other Reportables' : 'Long Non-Reporting'",
    "symbolSize":400,"symbolStrokeWidth":2}},
  "stroke":{"field":"k","type":"nominal",
   "scale":{"domain":["a1","a2","a3","a4","a5","a6","a7","a8"],
    "range":["#243F60","#243F60","#243F60","#243F60","#FFC000","#243F60","#FFC000","#243F60"]}},
  "shape":{"field":"k","type":"nominal",
   "scale":{"domain":["a1","a2","a3","a4","a5","a6","a7","a8"],
    "range":["M-0.7,-0.9H0.7V0.9H-0.7Z M26.1,0Z","M-0.7,-0.9H0.7V0.9H-0.7Z M26.1,0Z","M-0.7,-0.9H0.7V0.9H-0.7Z M26.1,0Z","M-0.7,-0.9H0.7V0.9H-0.7Z M45,0Z","M-0.7,-0.9H0.7V0.9H-0.7Z M26.1,0Z","M-0.7,-0.9H0.7V0.9H-0.7Z M26.1,0Z","M-0.7,-0.9H0.7V0.9H-0.7Z M26.1,0Z","M-0.7,-0.9H0.7V0.9H-0.7Z M45,0Z"]}}
 }},
{"data":{"name":"nrl"},
 "mark":{"type":"area","fill":"#E06422","stroke":"#243F60","strokeWidth":2.5,"strokeJoin":"round"},
 "encoding":{
  "x":{"field":"t","type":"quantitative","scale":{"domain":[1995,2020.45],"nice":false,"zero":false},
   "axis":{"values":[1995,1996,1997,1998,1999,2000,2001,2002,2003,2004,2005,2006,2007,2008,2009,2010,2011,2012,2013,2014,2015,2016,2017,2018,2019,2020],
    "format":"d","labelAngle":-90,"labelFont":"Lato","labelFontSize":24,"labelFontWeight":"bold","labelColor":"#595959","labelPadding":19,
    "ticks":false,"tickSize":0,"grid":false,"domainColor":"#D9D9D9","domainWidth":3,"title":null,"labelOverlap":false,"labelFlush":false,"labelBound":false,"zindex":1}},
  "y":{"field":"v","type":"quantitative","scale":{"domain":[0,100],"nice":false},
   "axis":{"values":[0,10,20,30,40,50,60,70,80,90,100],"labelExpr":"datum.value + '%'","labelFont":"Lato","labelFontSize":24,"labelFontWeight":"bold","labelColor":"#595959","labelPadding":26,
    "ticks":false,"tickSize":0,"domain":false,"grid":false,"title":null,"labelOverlap":false,"labelFlush":false}}
 }},
{"data":{"name":"noncomm"},
 "mark":{"type":"area","fill":"#FFC000","stroke":"#243F60","strokeWidth":2.5,"strokeJoin":"round"},
 "encoding":{"x":{"field":"t","type":"quantitative"},"y":{"field":"v","type":"quantitative"}}},
{"data":{"name":"comm"},
 "mark":{"type":"area","fill":"#376092","stroke":"#243F60","strokeWidth":2.5,"strokeJoin":"round"},
 "encoding":{"x":{"field":"t","type":"quantitative"},"y":{"field":"v","type":"quantitative"}}},
{"data":{"name":"nrd"},
 "mark":{"type":"area","fill":"#E06422","stroke":"#243F60","strokeWidth":2.5,"strokeJoin":"round"},
 "encoding":{"x":{"field":"t","type":"quantitative"},"y":{"field":"v","type":"quantitative"}}},
{"data":{"name":"other"},
 "mark":{"type":"area","fill":"#FFC000","stroke":"#243F60","strokeWidth":2.5,"strokeJoin":"round"},
 "encoding":{"x":{"field":"t","type":"quantitative"},"y":{"field":"v","type":"quantitative"}}},
{"data":{"name":"mm"},
 "mark":{"type":"area","stroke":"#243F60","strokeWidth":1.3,"strokeJoin":"round",
  "fill":{"gradient":"linear","x1":0,"y1":0,"x2":1.2011,"y2":0.592,"stops":[
{"offset":0,"color":"#FFC000"},{"offset":0.0050,"color":"#FFC000"},{"offset":0.0050,"color":"#FFF"},{"offset":0.0101,"color":"#FFF"},
{"offset":0.0101,"color":"#FFC000"},{"offset":0.0151,"color":"#FFC000"},{"offset":0.0151,"color":"#FFF"},{"offset":0.0202,"color":"#FFF"},
{"offset":0.0202,"color":"#FFC000"},{"offset":0.0252,"color":"#FFC000"},{"offset":0.0252,"color":"#FFF"},{"offset":0.0303,"color":"#FFF"},
{"offset":0.0303,"color":"#FFC000"},{"offset":0.0353,"color":"#FFC000"},{"offset":0.0353,"color":"#FFF"},{"offset":0.0404,"color":"#FFF"},
{"offset":0.0404,"color":"#FFC000"},{"offset":0.0454,"color":"#FFC000"},{"offset":0.0454,"color":"#FFF"},{"offset":0.0505,"color":"#FFF"},
{"offset":0.0505,"color":"#FFC000"},{"offset":0.0555,"color":"#FFC000"},{"offset":0.0555,"color":"#FFF"},{"offset":0.0606,"color":"#FFF"},
{"offset":0.0606,"color":"#FFC000"},{"offset":0.0656,"color":"#FFC000"},{"offset":0.0656,"color":"#FFF"},{"offset":0.0707,"color":"#FFF"},
{"offset":0.0707,"color":"#FFC000"},{"offset":0.0757,"color":"#FFC000"},{"offset":0.0757,"color":"#FFF"},{"offset":0.0808,"color":"#FFF"},
{"offset":0.0808,"color":"#FFC000"},{"offset":0.0858,"color":"#FFC000"},{"offset":0.0858,"color":"#FFF"},{"offset":0.0909,"color":"#FFF"},
{"offset":0.0909,"color":"#FFC000"},{"offset":0.0959,"color":"#FFC000"},{"offset":0.0959,"color":"#FFF"},{"offset":0.1010,"color":"#FFF"},
{"offset":0.1010,"color":"#FFC000"},{"offset":0.1060,"color":"#FFC000"},{"offset":0.1060,"color":"#FFF"},{"offset":0.1111,"color":"#FFF"},
{"offset":0.1111,"color":"#FFC000"},{"offset":0.1161,"color":"#FFC000"},{"offset":0.1161,"color":"#FFF"},{"offset":0.1212,"color":"#FFF"},
{"offset":0.1212,"color":"#FFC000"},{"offset":0.1262,"color":"#FFC000"},{"offset":0.1262,"color":"#FFF"},{"offset":0.1313,"color":"#FFF"},
{"offset":0.1313,"color":"#FFC000"},{"offset":0.1363,"color":"#FFC000"},{"offset":0.1363,"color":"#FFF"},{"offset":0.1414,"color":"#FFF"},
{"offset":0.1414,"color":"#FFC000"},{"offset":0.1464,"color":"#FFC000"},{"offset":0.1464,"color":"#FFF"},{"offset":0.1515,"color":"#FFF"},
{"offset":0.1515,"color":"#FFC000"},{"offset":0.1565,"color":"#FFC000"},{"offset":0.1565,"color":"#FFF"},{"offset":0.1616,"color":"#FFF"},
{"offset":0.1616,"color":"#FFC000"},{"offset":0.1666,"color":"#FFC000"},{"offset":0.1666,"color":"#FFF"},{"offset":0.1717,"color":"#FFF"},
{"offset":0.1717,"color":"#FFC000"},{"offset":0.1767,"color":"#FFC000"},{"offset":0.1767,"color":"#FFF"},{"offset":0.1818,"color":"#FFF"},
{"offset":0.1818,"color":"#FFC000"},{"offset":0.1868,"color":"#FFC000"},{"offset":0.1868,"color":"#FFF"},{"offset":0.1919,"color":"#FFF"},
{"offset":0.1919,"color":"#FFC000"},{"offset":0.1969,"color":"#FFC000"},{"offset":0.1969,"color":"#FFF"},{"offset":0.2020,"color":"#FFF"},
{"offset":0.2020,"color":"#FFC000"},{"offset":0.2070,"color":"#FFC000"},{"offset":0.2070,"color":"#FFF"},{"offset":0.2121,"color":"#FFF"},
{"offset":0.2121,"color":"#FFC000"},{"offset":0.2171,"color":"#FFC000"},{"offset":0.2171,"color":"#FFF"},{"offset":0.2222,"color":"#FFF"},
{"offset":0.2222,"color":"#FFC000"},{"offset":0.2272,"color":"#FFC000"},{"offset":0.2272,"color":"#FFF"},{"offset":0.2323,"color":"#FFF"},
{"offset":0.2323,"color":"#FFC000"},{"offset":0.2373,"color":"#FFC000"},{"offset":0.2373,"color":"#FFF"},{"offset":0.2424,"color":"#FFF"},
{"offset":0.2424,"color":"#FFC000"},{"offset":0.2474,"color":"#FFC000"},{"offset":0.2474,"color":"#FFF"},{"offset":0.2525,"color":"#FFF"},
{"offset":0.2525,"color":"#FFC000"},{"offset":0.2575,"color":"#FFC000"},{"offset":0.2575,"color":"#FFF"},{"offset":0.2626,"color":"#FFF"},
{"offset":0.2626,"color":"#FFC000"},{"offset":0.2676,"color":"#FFC000"},{"offset":0.2676,"color":"#FFF"},{"offset":0.2727,"color":"#FFF"},
{"offset":0.2727,"color":"#FFC000"},{"offset":0.2777,"color":"#FFC000"},{"offset":0.2777,"color":"#FFF"},{"offset":0.2828,"color":"#FFF"},
{"offset":0.2828,"color":"#FFC000"},{"offset":0.2878,"color":"#FFC000"},{"offset":0.2878,"color":"#FFF"},{"offset":0.2929,"color":"#FFF"},
{"offset":0.2929,"color":"#FFC000"},{"offset":0.2979,"color":"#FFC000"},{"offset":0.2979,"color":"#FFF"},{"offset":0.3030,"color":"#FFF"},
{"offset":0.3030,"color":"#FFC000"},{"offset":0.3080,"color":"#FFC000"},{"offset":0.3080,"color":"#FFF"},{"offset":0.3131,"color":"#FFF"},
{"offset":0.3131,"color":"#FFC000"},{"offset":0.3181,"color":"#FFC000"},{"offset":0.3181,"color":"#FFF"},{"offset":0.3232,"color":"#FFF"},
{"offset":0.3232,"color":"#FFC000"},{"offset":0.3282,"color":"#FFC000"},{"offset":0.3282,"color":"#FFF"},{"offset":0.3333,"color":"#FFF"},
{"offset":0.3333,"color":"#FFC000"},{"offset":0.3383,"color":"#FFC000"},{"offset":0.3383,"color":"#FFF"},{"offset":0.3434,"color":"#FFF"},
{"offset":0.3434,"color":"#FFC000"},{"offset":0.3484,"color":"#FFC000"},{"offset":0.3484,"color":"#FFF"},{"offset":0.3535,"color":"#FFF"},
{"offset":0.3535,"color":"#FFC000"},{"offset":0.3585,"color":"#FFC000"},{"offset":0.3585,"color":"#FFF"},{"offset":0.3636,"color":"#FFF"},
{"offset":0.3636,"color":"#FFC000"},{"offset":0.3686,"color":"#FFC000"},{"offset":0.3686,"color":"#FFF"},{"offset":0.3737,"color":"#FFF"},
{"offset":0.3737,"color":"#FFC000"},{"offset":0.3787,"color":"#FFC000"},{"offset":0.3787,"color":"#FFF"},{"offset":0.3838,"color":"#FFF"},
{"offset":0.3838,"color":"#FFC000"},{"offset":0.3888,"color":"#FFC000"},{"offset":0.3888,"color":"#FFF"},{"offset":0.3939,"color":"#FFF"},
{"offset":0.3939,"color":"#FFC000"},{"offset":0.3989,"color":"#FFC000"},{"offset":0.3989,"color":"#FFF"},{"offset":0.4040,"color":"#FFF"},
{"offset":0.4040,"color":"#FFC000"},{"offset":0.4090,"color":"#FFC000"},{"offset":0.4090,"color":"#FFF"},{"offset":0.4141,"color":"#FFF"},
{"offset":0.4141,"color":"#FFC000"},{"offset":0.4191,"color":"#FFC000"},{"offset":0.4191,"color":"#FFF"},{"offset":0.4242,"color":"#FFF"},
{"offset":0.4242,"color":"#FFC000"},{"offset":0.4292,"color":"#FFC000"},{"offset":0.4292,"color":"#FFF"},{"offset":0.4343,"color":"#FFF"},
{"offset":0.4343,"color":"#FFC000"},{"offset":0.4393,"color":"#FFC000"},{"offset":0.4393,"color":"#FFF"},{"offset":0.4444,"color":"#FFF"},
{"offset":0.4444,"color":"#FFC000"},{"offset":0.4494,"color":"#FFC000"},{"offset":0.4494,"color":"#FFF"},{"offset":0.4545,"color":"#FFF"},
{"offset":0.4545,"color":"#FFC000"},{"offset":0.4595,"color":"#FFC000"},{"offset":0.4595,"color":"#FFF"},{"offset":0.4646,"color":"#FFF"},
{"offset":0.4646,"color":"#FFC000"},{"offset":0.4696,"color":"#FFC000"},{"offset":0.4696,"color":"#FFF"},{"offset":0.4747,"color":"#FFF"},
{"offset":0.4747,"color":"#FFC000"},{"offset":0.4797,"color":"#FFC000"},{"offset":0.4797,"color":"#FFF"},{"offset":0.4848,"color":"#FFF"},
{"offset":0.4848,"color":"#FFC000"},{"offset":0.4898,"color":"#FFC000"},{"offset":0.4898,"color":"#FFF"},{"offset":0.4949,"color":"#FFF"},
{"offset":0.4949,"color":"#FFC000"},{"offset":0.4999,"color":"#FFC000"},{"offset":0.4999,"color":"#FFF"},{"offset":0.5051,"color":"#FFF"},
{"offset":0.5051,"color":"#FFC000"},{"offset":0.5101,"color":"#FFC000"},{"offset":0.5101,"color":"#FFF"},{"offset":0.5152,"color":"#FFF"},
{"offset":0.5152,"color":"#FFC000"},{"offset":0.5202,"color":"#FFC000"},{"offset":0.5202,"color":"#FFF"},{"offset":0.5253,"color":"#FFF"},
{"offset":0.5253,"color":"#FFC000"},{"offset":0.5303,"color":"#FFC000"},{"offset":0.5303,"color":"#FFF"},{"offset":0.5354,"color":"#FFF"},
{"offset":0.5354,"color":"#FFC000"},{"offset":0.5404,"color":"#FFC000"},{"offset":0.5404,"color":"#FFF"},{"offset":0.5455,"color":"#FFF"},
{"offset":0.5455,"color":"#FFC000"},{"offset":0.5505,"color":"#FFC000"},{"offset":0.5505,"color":"#FFF"},{"offset":0.5556,"color":"#FFF"},
{"offset":0.5556,"color":"#FFC000"},{"offset":0.5606,"color":"#FFC000"},{"offset":0.5606,"color":"#FFF"},{"offset":0.5657,"color":"#FFF"},
{"offset":0.5657,"color":"#FFC000"},{"offset":0.5707,"color":"#FFC000"},{"offset":0.5707,"color":"#FFF"},{"offset":0.5758,"color":"#FFF"},
{"offset":0.5758,"color":"#FFC000"},{"offset":0.5808,"color":"#FFC000"},{"offset":0.5808,"color":"#FFF"},{"offset":0.5859,"color":"#FFF"},
{"offset":0.5859,"color":"#FFC000"},{"offset":0.5909,"color":"#FFC000"},{"offset":0.5909,"color":"#FFF"},{"offset":0.5960,"color":"#FFF"},
{"offset":0.5960,"color":"#FFC000"},{"offset":0.6010,"color":"#FFC000"},{"offset":0.6010,"color":"#FFF"},{"offset":0.6061,"color":"#FFF"},
{"offset":0.6061,"color":"#FFC000"},{"offset":0.6111,"color":"#FFC000"},{"offset":0.6111,"color":"#FFF"},{"offset":0.6162,"color":"#FFF"},
{"offset":0.6162,"color":"#FFC000"},{"offset":0.6212,"color":"#FFC000"},{"offset":0.6212,"color":"#FFF"},{"offset":0.6263,"color":"#FFF"},
{"offset":0.6263,"color":"#FFC000"},{"offset":0.6313,"color":"#FFC000"},{"offset":0.6313,"color":"#FFF"},{"offset":0.6364,"color":"#FFF"},
{"offset":0.6364,"color":"#FFC000"},{"offset":0.6414,"color":"#FFC000"},{"offset":0.6414,"color":"#FFF"},{"offset":0.6465,"color":"#FFF"},
{"offset":0.6465,"color":"#FFC000"},{"offset":0.6515,"color":"#FFC000"},{"offset":0.6515,"color":"#FFF"},{"offset":0.6566,"color":"#FFF"},
{"offset":0.6566,"color":"#FFC000"},{"offset":0.6616,"color":"#FFC000"},{"offset":0.6616,"color":"#FFF"},{"offset":0.6667,"color":"#FFF"},
{"offset":0.6667,"color":"#FFC000"},{"offset":0.6717,"color":"#FFC000"},{"offset":0.6717,"color":"#FFF"},{"offset":0.6768,"color":"#FFF"},
{"offset":0.6768,"color":"#FFC000"},{"offset":0.6818,"color":"#FFC000"},{"offset":0.6818,"color":"#FFF"},{"offset":0.6869,"color":"#FFF"},
{"offset":0.6869,"color":"#FFC000"},{"offset":0.6919,"color":"#FFC000"},{"offset":0.6919,"color":"#FFF"},{"offset":0.6970,"color":"#FFF"},
{"offset":0.6970,"color":"#FFC000"},{"offset":0.7020,"color":"#FFC000"},{"offset":0.7020,"color":"#FFF"},{"offset":0.7071,"color":"#FFF"},
{"offset":0.7071,"color":"#FFC000"},{"offset":0.7121,"color":"#FFC000"},{"offset":0.7121,"color":"#FFF"},{"offset":0.7172,"color":"#FFF"},
{"offset":0.7172,"color":"#FFC000"},{"offset":0.7222,"color":"#FFC000"},{"offset":0.7222,"color":"#FFF"},{"offset":0.7273,"color":"#FFF"},
{"offset":0.7273,"color":"#FFC000"},{"offset":0.7323,"color":"#FFC000"},{"offset":0.7323,"color":"#FFF"},{"offset":0.7374,"color":"#FFF"},
{"offset":0.7374,"color":"#FFC000"},{"offset":0.7424,"color":"#FFC000"},{"offset":0.7424,"color":"#FFF"},{"offset":0.7475,"color":"#FFF"},
{"offset":0.7475,"color":"#FFC000"},{"offset":0.7525,"color":"#FFC000"},{"offset":0.7525,"color":"#FFF"},{"offset":0.7576,"color":"#FFF"},
{"offset":0.7576,"color":"#FFC000"},{"offset":0.7626,"color":"#FFC000"},{"offset":0.7626,"color":"#FFF"},{"offset":0.7677,"color":"#FFF"},
{"offset":0.7677,"color":"#FFC000"},{"offset":0.7727,"color":"#FFC000"},{"offset":0.7727,"color":"#FFF"},{"offset":0.7778,"color":"#FFF"},
{"offset":0.7778,"color":"#FFC000"},{"offset":0.7828,"color":"#FFC000"},{"offset":0.7828,"color":"#FFF"},{"offset":0.7879,"color":"#FFF"},
{"offset":0.7879,"color":"#FFC000"},{"offset":0.7929,"color":"#FFC000"},{"offset":0.7929,"color":"#FFF"},{"offset":0.7980,"color":"#FFF"},
{"offset":0.7980,"color":"#FFC000"},{"offset":0.8030,"color":"#FFC000"},{"offset":0.8030,"color":"#FFF"},{"offset":0.8081,"color":"#FFF"},
{"offset":0.8081,"color":"#FFC000"},{"offset":0.8131,"color":"#FFC000"},{"offset":0.8131,"color":"#FFF"},{"offset":0.8182,"color":"#FFF"},
{"offset":0.8182,"color":"#FFC000"},{"offset":0.8232,"color":"#FFC000"},{"offset":0.8232,"color":"#FFF"},{"offset":0.8283,"color":"#FFF"},
{"offset":0.8283,"color":"#FFC000"},{"offset":0.8333,"color":"#FFC000"},{"offset":0.8333,"color":"#FFF"},{"offset":0.8384,"color":"#FFF"},
{"offset":0.8384,"color":"#FFC000"},{"offset":0.8434,"color":"#FFC000"},{"offset":0.8434,"color":"#FFF"},{"offset":0.8485,"color":"#FFF"},
{"offset":0.8485,"color":"#FFC000"},{"offset":0.8535,"color":"#FFC000"},{"offset":0.8535,"color":"#FFF"},{"offset":0.8586,"color":"#FFF"},
{"offset":0.8586,"color":"#FFC000"},{"offset":0.8636,"color":"#FFC000"},{"offset":0.8636,"color":"#FFF"},{"offset":0.8687,"color":"#FFF"},
{"offset":0.8687,"color":"#FFC000"},{"offset":0.8737,"color":"#FFC000"},{"offset":0.8737,"color":"#FFF"},{"offset":0.8788,"color":"#FFF"},
{"offset":0.8788,"color":"#FFC000"},{"offset":0.8838,"color":"#FFC000"},{"offset":0.8838,"color":"#FFF"},{"offset":0.8889,"color":"#FFF"},
{"offset":0.8889,"color":"#FFC000"},{"offset":0.8939,"color":"#FFC000"},{"offset":0.8939,"color":"#FFF"},{"offset":0.8990,"color":"#FFF"},
{"offset":0.8990,"color":"#FFC000"},{"offset":0.9040,"color":"#FFC000"},{"offset":0.9040,"color":"#FFF"},{"offset":0.9091,"color":"#FFF"},
{"offset":0.9091,"color":"#FFC000"},{"offset":0.9141,"color":"#FFC000"},{"offset":0.9141,"color":"#FFF"},{"offset":0.9192,"color":"#FFF"},
{"offset":0.9192,"color":"#FFC000"},{"offset":0.9242,"color":"#FFC000"},{"offset":0.9242,"color":"#FFF"},{"offset":0.9293,"color":"#FFF"},
{"offset":0.9293,"color":"#FFC000"},{"offset":0.9343,"color":"#FFC000"},{"offset":0.9343,"color":"#FFF"},{"offset":0.9394,"color":"#FFF"},
{"offset":0.9394,"color":"#FFC000"},{"offset":0.9444,"color":"#FFC000"},{"offset":0.9444,"color":"#FFF"},{"offset":0.9495,"color":"#FFF"},
{"offset":0.9495,"color":"#FFC000"},{"offset":0.9545,"color":"#FFC000"},{"offset":0.9545,"color":"#FFF"},{"offset":0.9596,"color":"#FFF"},
{"offset":0.9596,"color":"#FFC000"},{"offset":0.9646,"color":"#FFC000"},{"offset":0.9646,"color":"#FFF"},{"offset":0.9697,"color":"#FFF"},
{"offset":0.9697,"color":"#FFC000"},{"offset":0.9747,"color":"#FFC000"},{"offset":0.9747,"color":"#FFF"},{"offset":0.9798,"color":"#FFF"},
{"offset":0.9798,"color":"#FFC000"},{"offset":0.9848,"color":"#FFC000"},{"offset":0.9848,"color":"#FFF"},{"offset":0.9899,"color":"#FFF"},
{"offset":0.9899,"color":"#FFC000"},{"offset":0.9949,"color":"#FFC000"},{"offset":0.9949,"color":"#FFF"},{"offset":1,"color":"#FFF"}
  ]}},
 "encoding":{"x":{"field":"t","type":"quantitative"},"y":{"field":"v","type":"quantitative"}}},
{"data":{"name":"swap"},
 "mark":{"type":"area","fill":"#C6D9F1","stroke":"#243F60","strokeWidth":2.5,"strokeJoin":"round"},
 "encoding":{"x":{"field":"t","type":"quantitative"},"y":{"field":"v","type":"quantitative"}}},
{"data":{"name":"pmpu"},
 "mark":{"type":"area","fill":"#376092","stroke":"#FFC000","strokeWidth":2.5,"strokeJoin":"round"},
 "encoding":{"x":{"field":"t","type":"quantitative"},"y":{"field":"v","type":"quantitative"}}},
{"data":{"name":"brk"},
 "mark":{"type":"rule","stroke":"#243F60","strokeWidth":2.5},
 "encoding":{"x":{"field":"t","type":"quantitative"}}}
]
}
